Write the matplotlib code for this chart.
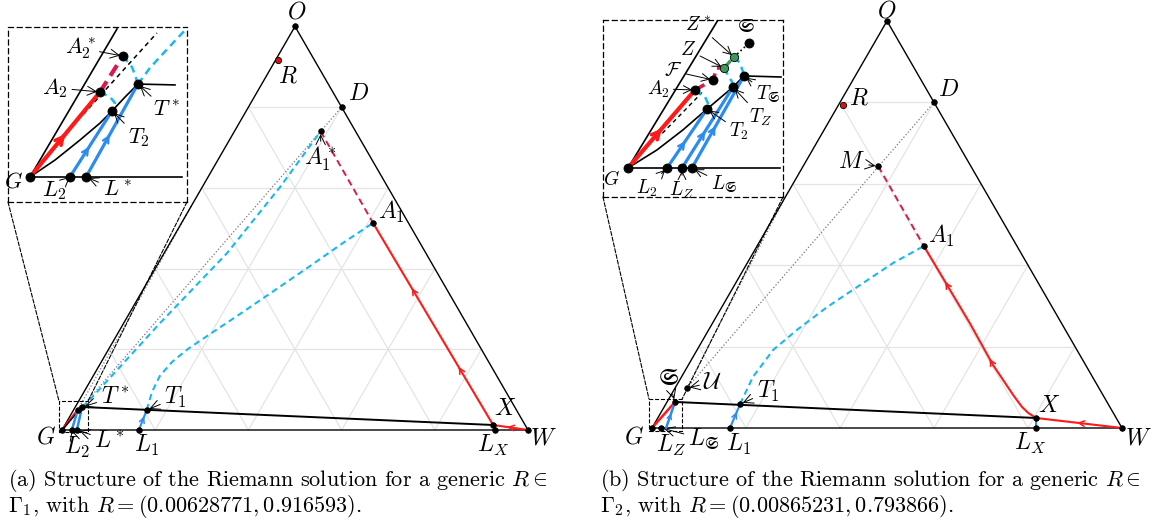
import numpy as np
import matplotlib.pyplot as plt
from matplotlib.patches import Rectangle, ConnectionPatch

plt.rcParams['mathtext.fontset'] = 'cm'
plt.rcParams['font.family'] = 'serif'
plt.rcParams['font.serif'] = ['cmr10', 'DejaVu Serif']
plt.rcParams['axes.unicode_minus'] = False
plt.rcParams['axes.formatter.use_mathtext'] = True

S3 = np.sqrt(3) / 2

# ---- panel (a): points in saturation coordinates (s_w, s_o) ----
a_R = (0.00628771, 0.916593)
a_D = (0.2, 0.8)
a_A1s = (0.185, 0.74)
a_A1 = (0.411, 0.513)
a_X = (0.919, 0.0124)
a_LX = (0.929, 0.0)
a_T1 = (0.157, 0.0496)
a_L1 = (0.165, 0.0)
a_Ts = (0.0145, 0.057)
a_Ls = (0.032, 0.0)
a_L2 = (0.021, 0.0)
a_A2 = (0.009, 0.05)
a_edge = (0.0, 0.557)
a_cyan_hi = [a_Ts, (0.020, 0.067), (0.078, 0.265), (0.135, 0.438), (0.167, 0.602), a_A1s]
a_cyan_lo = [a_T1, (0.146, 0.094), (0.143, 0.134), (0.152, 0.169), (0.170, 0.201),
             (0.199, 0.238), (0.238, 0.287), (0.284, 0.347), (0.329, 0.406), (0.371, 0.463), a_A1]

# ---- panel (b) ----
b_R = (0.00865231, 0.793866)
b_D = (0.2, 0.8)
b_M = (0.16, 0.643)
b_A1 = (0.355, 0.447)
b_X = (0.805, 0.0246)
b_LX = (0.817, 0.0)
b_S = (0.017, 0.064)
b_U = (0.025, 0.098)
b_T1 = (0.158, 0.059)
b_L1 = (0.166, 0.0)
b_LZ = (0.02, 0.0)
b_LS = (0.03, 0.0)
b_edge = (0.0, 0.56)
b_red = [b_A1, (0.549, 0.256), (0.648, 0.155), (0.688, 0.118), (0.728, 0.081),
         (0.761, 0.052), (0.782, 0.037), b_X]
b_cyan = [b_T1, (0.152, 0.125), (0.162, 0.192), (0.188, 0.241), (0.224, 0.297),
          (0.263, 0.346), (0.310, 0.405), b_A1]

# ---- inset (a), local coordinates ----
ia_G = (0.123, 0.143)
ia_top = (0.609, 0.989)
ia_base = (0.972, 0.143)
ia_T2 = (0.581, 0.52)
ia_Ts = (0.726, 0.674)
ia_Ts_end = (0.933, 0.669)
ia_A2 = (0.514, 0.629)
ia_A2s = (0.642, 0.834)
ia_L2 = (0.346, 0.143)
ia_Ls = (0.436, 0.143)
ia_dash = [(0.42, 0.50), (0.832, 0.966)]
ia_curve = [ia_G, (0.263, 0.24), (0.402, 0.354), (0.514, 0.451), ia_T2, (0.654, 0.6), ia_Ts]
ia_arc1 = [ia_A2, (0.570, 0.60), (0.598, 0.566), ia_T2]
ia_arc2 = [ia_A2s, (0.693, 0.771), (0.709, 0.726), ia_Ts]
ia_up = [ia_Ts, (0.793, 0.766), (0.849, 0.829), (0.922, 0.909), (1.0, 0.994)]

# ---- inset (b) ----
ib_G = (0.139, 0.164)
ib_top = (0.639, 1.0)
ib_base = (0.983, 0.164)
ib_T2 = (0.578, 0.497)
ib_TZ = (0.722, 0.621)
ib_TS = (0.783, 0.684)
ib_TS_end = (0.989, 0.678)
ib_A2 = (0.511, 0.605)
ib_F = (0.611, 0.661)
ib_Z = (0.672, 0.729)
ib_Zs = (0.728, 0.791)
ib_S = (0.811, 0.870)
ib_L2 = (0.356, 0.164)
ib_LZ = (0.439, 0.164)
ib_LS = (0.494, 0.164)
ib_curve = [ib_G, (0.30, 0.266), (0.444, 0.379), ib_T2, ib_TZ, ib_TS]
ib_crim = [ib_A2, ib_F, (0.633, 0.729), ib_Z]
ib_dash = [(0.33, 0.36), (0.55, 0.59)]
ib_arc1 = [ib_A2, (0.567, 0.565), (0.583, 0.531), ib_T2]
ib_arc2 = [ib_Z, (0.694, 0.689), (0.717, 0.650), ib_TZ]
ib_arc3 = [ib_Zs, (0.761, 0.757), (0.778, 0.706), ib_TS]

RED = '#ff1a1a'
CRIM = '#d81b4f'
CYAN = '#18b8f0'
BLUE = '#2b8cf0'
GREEN = '#3a9a5a'
GRID = '#e4e4e4'
FS = 17


def tern(pts):
    a = np.atleast_2d(np.asarray(pts, float))
    return a[:, 0] + a[:, 1] / 2, a[:, 1] * S3


def loc(pts):
    a = np.atleast_2d(np.asarray(pts, float))
    return a[:, 0], a[:, 1]


def tp(p):
    x, y = tern([p])
    return float(x[0]), float(y[0])


def arrow_on(ax, xs, ys, t, color, lw, size=12):
    d = np.hypot(np.diff(xs), np.diff(ys))
    c = np.concatenate([[0], np.cumsum(d)])
    s = t * c[-1]
    i = int(np.clip(np.searchsorted(c, s) - 1, 0, len(d) - 1))
    f = (s - c[i]) / d[i]
    x = xs[i] + f * (xs[i + 1] - xs[i])
    y = ys[i] + f * (ys[i + 1] - ys[i])
    ux, uy = (xs[i + 1] - xs[i]) / d[i], (ys[i + 1] - ys[i]) / d[i]
    e = 0.004
    ax.annotate('', xy=(x + ux * e, y + uy * e), xytext=(x - ux * e, y - uy * e),
                arrowprops=dict(arrowstyle='->', color=color, lw=lw,
                                mutation_scale=size, shrinkA=0, shrinkB=0))


def lab(ax, txt, p, off, arrow=False, fs=FS):
    props = None
    if arrow:
        props = dict(arrowstyle='->', lw=0.7, color='k', shrinkA=1, shrinkB=2)
    ax.annotate(txt, xy=p, xytext=off, textcoords='offset pixels', ha='center',
                va='center', fontsize=fs, arrowprops=props)


def frame(ax):
    for k in [0.2, 0.4, 0.6, 0.8]:
        for seg in ([(0, k), (1 - k, k)], [(k, 0), (k, 1 - k)], [(1 - k, 0), (0, 1 - k)]):
            x, y = tern(seg)
            ax.plot(x, y, color=GRID, lw=0.9, zorder=0)
    x, y = tern([(0, 0), (1, 0), (0, 1), (0, 0)])
    ax.plot(x, y, color='k', lw=1.0, zorder=2)


def dot(ax, p, ms=4, fc='k', conv=tern, z=6):
    x, y = conv([p])
    ax.plot(x, y, 'o', ms=ms, mfc=fc, mec='k', mew=0.6, zorder=z)


fig = plt.figure(figsize=(11.58, 5.24), dpi=100)

# ================= panel (a) =================
axa = fig.add_axes([0, 0, 0.5, 1])
axa.set_xlim(-62 / 466, (579 - 62) / 466)
axa.set_ylim(-94 / 466, 430 / 466)
axa.axis('off')
frame(axa)
x, y = tern([(0, 0), a_D]); axa.plot(x, y, ':', color='#777777', lw=0.9, zorder=1)
x, y = tern([a_A2, a_edge]); axa.plot(x, y, ':', color='#777777', lw=0.9, zorder=1)
x, y = tern(a_cyan_hi); axa.plot(x, y, '--', color=CYAN, lw=1.5, dashes=(3, 2), zorder=3)
x, y = tern(a_cyan_lo); axa.plot(x, y, '--', color=CYAN, lw=1.5, dashes=(3, 2), zorder=3)
x, y = tern([a_A1s, a_A1]); axa.plot(x, y, '--', color=CRIM, lw=1.4, dashes=(3.5, 2.2), zorder=3)
rx, ry = tern([a_X, a_A1]); axa.plot(rx, ry, color=RED, lw=1.5, zorder=4)
arrow_on(axa, rx, ry, 0.28, RED, 1.1, 10)
arrow_on(axa, rx, ry, 0.67, RED, 1.1, 10)
wx, wy = tern([(1, 0), a_X]); axa.plot(wx, wy, color=RED, lw=1.5, zorder=4)
arrow_on(axa, wx, wy, 0.55, RED, 1.1, 10)
x, y = tern([a_Ts, a_X]); axa.plot(x, y, color='k', lw=1.4, zorder=4)
x, y = tern([(0, 0), a_A2]); axa.plot(x, y, color=RED, lw=1.8, zorder=4)
x, y = tern([(0, 0), a_Ts]); axa.plot(x, y, color='k', lw=1.0, zorder=4)
bx, by = tern([a_Ls, a_Ts]); axa.plot(bx, by, color=BLUE, lw=1.8, zorder=4)
bx, by = tern([a_L2, a_A2]); axa.plot(bx, by, color=BLUE, lw=1.8, zorder=4)
bx, by = tern([a_L1, a_T1]); axa.plot(bx, by, color=BLUE, lw=1.5, zorder=4)
arrow_on(axa, bx, by, 0.6, BLUE, 1.1, 9)
bx, by = tern([a_LX, a_X]); axa.plot(bx, by, color=BLUE, lw=1.5, zorder=4)
axa.add_patch(Rectangle((-0.0064, -0.004), 0.0622, 0.066, fill=False, ls='--', lw=0.8, zorder=5))
for p in [(0, 0), (1, 0), (0, 1), a_D, a_A1s, a_A1, a_X, a_LX, a_T1, a_L1, a_Ts, a_Ls, a_L2, a_A2]:
    dot(axa, p)
dot(axa, a_R, ms=4.5, fc='#e01010')
lab(axa, '$O$', tp((0, 1)), (2, 14))
lab(axa, '$R$', tp(a_R), (9, -16))
lab(axa, '$D$', tp(a_D), (17, 13))
lab(axa, '$A_1^*$', tp(a_A1s), (0, -28), arrow=True)
lab(axa, '$A_1$', tp(a_A1), (18, 11))
lab(axa, '$X$', tp(a_X), (12, 16))
lab(axa, '$L_X$', tp(a_LX), (-2, -15))
lab(axa, '$W$', tp((1, 0)), (15, -8))
lab(axa, '$T_1$', tp(a_T1), (29, 12), arrow=True)
lab(axa, '$L_1$', tp(a_L1), (8, -15))
lab(axa, '$T^*$', tp(a_Ts), (33, 10), arrow=True)
lab(axa, '$G$', tp((0, 0)), (-16, -7))
lab(axa, '$L_2$', tp(a_L2), (5, -17), arrow=True)
lab(axa, '$L^*$', tp(a_Ls), (33, -11), arrow=True)

# inset (a)
FI = 16
ia = fig.add_axes([8 / 1158, (524 - 202) / 524, 179 / 1158, 175 / 524])
ia.set_xlim(0, 1); ia.set_ylim(0, 1)
ia.set_xticks([]); ia.set_yticks([])
for sp in ia.spines.values():
    sp.set_linestyle((0, (4, 3))); sp.set_linewidth(0.9)
x, y = loc([ia_G, ia_top]); ia.plot(x, y, color='k', lw=1.2)
x, y = loc([ia_G, ia_base]); ia.plot(x, y, color='k', lw=1.2)
x, y = loc(ia_curve); ia.plot(x, y, color='k', lw=1.2)
x, y = loc([ia_Ts, ia_Ts_end]); ia.plot(x, y, color='k', lw=1.2)
x, y = loc(ia_dash); ia.plot(x, y, '--', color='k', lw=1.1, dashes=(3, 2.5))
x, y = loc(ia_arc1); ia.plot(x, y, '--', color=CYAN, lw=1.8, dashes=(3, 2))
x, y = loc(ia_arc2); ia.plot(x, y, '--', color=CYAN, lw=1.8, dashes=(3, 2))
x, y = loc(ia_up); ia.plot(x, y, '--', color=CYAN, lw=1.8, dashes=(3, 2))
x, y = loc([ia_A2, ia_A2s]); ia.plot(x, y, '--', color=CRIM, lw=3, dashes=(3, 1.6))
rx, ry = loc([ia_G, ia_A2]); ia.plot(rx, ry, color=RED, lw=3)
arrow_on(ia, rx, ry, 0.5, RED, 2.5, 14)
for L, T in [(ia_L2, ia_T2), (ia_Ls, ia_Ts)]:
    bx, by = loc([L, T]); ia.plot(bx, by, color=BLUE, lw=2.3)
    arrow_on(ia, bx, by, 0.45, BLUE, 1.6, 11)
for p in [ia_G, ia_T2, ia_Ts, ia_A2, ia_A2s, ia_L2, ia_Ls]:
    dot(ia, p, ms=6.5, conv=loc)
lab(ia, '$A_2^*$', ia_A2s, (-43, 8), arrow=True, fs=FI)
lab(ia, '$A_2$', ia_A2, (-45, 4), arrow=True, fs=FI)
lab(ia, '$T^*$', ia_Ts, (28, -26), arrow=True, fs=FI)
lab(ia, '$T_2$', ia_T2, (27, -27), arrow=True, fs=FI)
lab(ia, '$G$', ia_G, (-17, -5), fs=FI)
lab(ia, '$L_2$', ia_L2, (-16, -14), arrow=True, fs=FI)
lab(ia, '$L^*$', ia_Ls, (31, -13), arrow=True, fs=FI)

for xa, xb in [((0, 0), (-0.0064, 0.062)), ((1, 0), (0.0558, 0.062))]:
    fig.add_artist(ConnectionPatch(xyA=xa, coordsA=ia.transAxes, xyB=xb, coordsB=axa.transData,
                                   ls='--', lw=0.8, color='k'))

# ================= panel (b) =================
axb = fig.add_axes([0.5, 0, 0.5, 1])
axb.set_xlim((579 - 652) / 470, (1158 - 652) / 470)
axb.set_ylim(-96 / 470, 428 / 470)
axb.axis('off')
frame(axb)
x, y = tern([b_U, b_D]); axb.plot(x, y, ':', color='#777777', lw=0.9, zorder=1)
x, y = tern([b_U, b_edge]); axb.plot(x, y, ':', color='#777777', lw=0.9, zorder=1)
x, y = tern(b_cyan); axb.plot(x, y, '--', color=CYAN, lw=1.5, dashes=(3, 2), zorder=3)
x, y = tern([b_M, b_A1]); axb.plot(x, y, '--', color=CRIM, lw=1.4, dashes=(3.5, 2.2), zorder=3)
rx, ry = tern(b_red); axb.plot(rx, ry, color=RED, lw=1.5, zorder=4)
rx2, ry2 = rx[::-1], ry[::-1]
arrow_on(axb, rx2, ry2, 0.36, RED, 1.1, 10)
arrow_on(axb, rx2, ry2, 0.79, RED, 1.1, 10)
wx, wy = tern([(1, 0), b_X]); axb.plot(wx, wy, color=RED, lw=1.5, zorder=4)
arrow_on(axb, wx, wy, 0.5, RED, 1.1, 10)
x, y = tern([b_S, b_X]); axb.plot(x, y, color='k', lw=1.4, zorder=4)
x, y = tern([(0, 0), b_S]); axb.plot(x, y, color=RED, lw=1.8, zorder=4)
bx, by = tern([b_LS, b_S]); axb.plot(bx, by, color=BLUE, lw=1.8, zorder=4)
arrow_on(axb, bx, by, 0.5, BLUE, 1.0, 8)
bx, by = tern([b_L1, b_T1]); axb.plot(bx, by, color=BLUE, lw=1.5, zorder=4)
arrow_on(axb, bx, by, 0.6, BLUE, 1.1, 9)
bx, by = tern([b_LX, b_X]); axb.plot(bx, by, color=BLUE, lw=1.5, zorder=4)
axb.add_patch(Rectangle((-0.0064, -0.006), 0.0704, 0.0677, fill=False, ls='--', lw=0.8, zorder=5))
for p in [(0, 0), (1, 0), (0, 1), b_D, b_M, b_A1, b_X, b_LX, b_S, b_U, b_T1, b_L1, b_LZ]:
    dot(axb, p)
dot(axb, b_R, ms=4.5, fc='#e01010')
lab(axb, '$O$', tp((0, 1)), (0, 10))
lab(axb, '$R$', tp(b_R), (16, 6))
lab(axb, '$D$', tp(b_D), (15, 12))
lab(axb, '$M$', tp(b_M), (-27, 4), arrow=True)
lab(axb, '$A_1$', tp(b_A1), (17, 10))
lab(axb, '$X$', tp(b_X), (13, 12))
lab(axb, '$L_X$', tp(b_LX), (-6, -15))
lab(axb, '$W$', tp((1, 0)), (16, -10))
lab(axb, '$T_1$', tp(b_T1), (28, 12), arrow=True)
lab(axb, '$L_1$', tp(b_L1), (8, -16))
lab(axb, r'$\mathfrak{S}$', tp(b_S), (-7, 23), arrow=True)
lab(axb, r'$\mathcal{U}$', tp(b_U), (26, 6), arrow=True)
lab(axb, '$G$', tp((0, 0)), (-18, -9))
lab(axb, '$L_Z$', tp(b_LZ), (10, -17))
lab(axb, r'$L_\mathfrak{S}$', tp(b_LZ), (42, -11), arrow=True)

# inset (b)
FJ = 14
ib = fig.add_axes([603 / 1158, (524 - 197) / 524, 180 / 1158, 177 / 524])
ib.set_xlim(0, 1); ib.set_ylim(0, 1)
ib.set_xticks([]); ib.set_yticks([])
for sp in ib.spines.values():
    sp.set_linestyle((0, (4, 3))); sp.set_linewidth(0.9)
x, y = loc([ib_G, ib_top]); ib.plot(x, y, color='k', lw=1.2)
x, y = loc([ib_G, ib_base]); ib.plot(x, y, color='k', lw=1.2)
x, y = loc(ib_curve); ib.plot(x, y, color='k', lw=1.2)
x, y = loc([ib_TS, ib_TS_end]); ib.plot(x, y, color='k', lw=1.2)
x, y = loc(ib_dash); ib.plot(x, y, '--', color='k', lw=1.0, dashes=(3, 2.5))
for arc in (ib_arc1, ib_arc2, ib_arc3):
    x, y = loc(arc); ib.plot(x, y, '--', color=CYAN, lw=1.8, dashes=(3, 2))
x, y = loc(ib_crim); ib.plot(x, y, '--', color=CRIM, lw=2.6, dashes=(3, 1.6))
x, y = loc([ib_Z, ib_Zs]); ib.plot(x, y, '--', color=GREEN, lw=2.4, dashes=(3, 1.6))
x, y = loc([ib_Zs, ib_S]); ib.plot(x, y, ':', color='k', lw=1.2)
rx, ry = loc([ib_G, ib_A2]); ib.plot(rx, ry, color=RED, lw=3)
arrow_on(ib, rx, ry, 0.5, RED, 2.5, 14)
for L, T in [(ib_L2, ib_T2), (ib_LZ, ib_TZ), (ib_LS, ib_TS)]:
    bx, by = loc([L, T]); ib.plot(bx, by, color=BLUE, lw=2.3)
    arrow_on(ib, bx, by, 0.45, BLUE, 1.6, 11)
for p in [ib_G, ib_T2, ib_TZ, ib_TS, ib_A2, ib_F, ib_S, ib_L2, ib_LZ, ib_LS]:
    dot(ib, p, ms=6.5, conv=loc)
dot(ib, ib_Z, ms=6, fc=GREEN, conv=loc)
dot(ib, ib_Zs, ms=6, fc=GREEN, conv=loc)
lab(ib, '$Z^*$', ib_Zs, (-36, 32), arrow=True, fs=FJ)
lab(ib, '$Z$', ib_Z, (-36, 18), arrow=True, fs=FJ)
lab(ib, r'$\mathcal{F}$', ib_F, (-40, 9), arrow=True, fs=FJ)
lab(ib, '$A_2$', ib_A2, (-37, 1), arrow=True, fs=FJ)
lab(ib, r'$\mathfrak{S}$', ib_S, (-3, 16), fs=FJ)
lab(ib, r'$T_\mathfrak{S}$', ib_TS, (24, -18), arrow=True, fs=FJ)
lab(ib, '$T_Z$', ib_TZ, (28, -30), arrow=True, fs=FJ)
lab(ib, '$T_2$', ib_T2, (32, -22), arrow=True, fs=FJ)
lab(ib, '$G$', ib_G, (-17, -12), fs=FJ)
lab(ib, '$L_2$', ib_L2, (-20, -20), arrow=True, fs=FJ)
lab(ib, '$L_Z$', ib_LZ, (0, -22), arrow=True, fs=FJ)
lab(ib, r'$L_\mathfrak{S}$', ib_LS, (32, -16), arrow=True, fs=FJ)

for xa, xb in [((0, 0), (-0.0064, 0.0617)), ((1, 0), (0.064, 0.0617))]:
    fig.add_artist(ConnectionPatch(xyA=xa, coordsA=ib.transAxes, xyB=xb, coordsB=axb.transData,
                                   ls='--', lw=0.8, color='k'))

# captions
cap_a = ['(a) Structure of the Riemann solution for a generic $R\\in$',
         '$\\Gamma_1$, with $R=(0.00628771,0.916593)$.']
cap_b = ['(b) Structure of the Riemann solution for a generic $R\\in$',
         '$\\Gamma_2$, with $R=(0.00865231,0.793866)$.']
for x0, cap in [(8, cap_a), (600, cap_b)]:
    fig.text(x0 / 1158, 1 - 481 / 524, cap[0], fontsize=16, va='center')
    fig.text(x0 / 1158, 1 - 506 / 524, cap[1], fontsize=16, va='center')

fig.savefig('out.png', dpi=100)
